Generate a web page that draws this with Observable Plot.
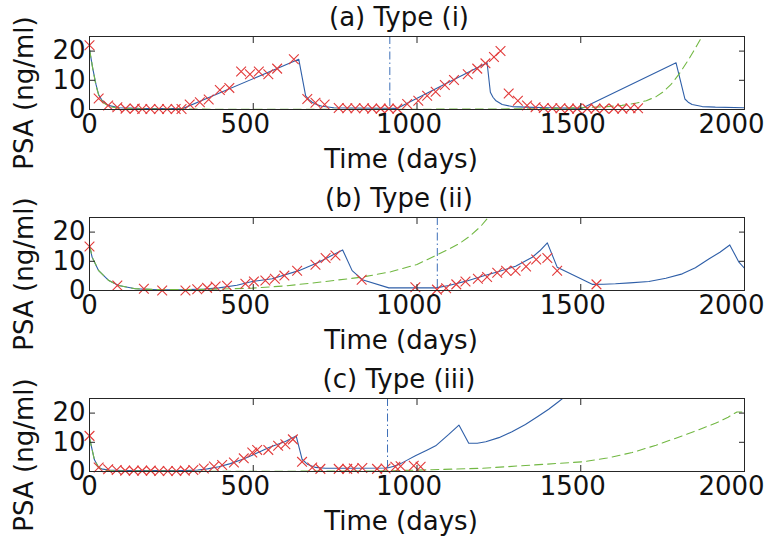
<!DOCTYPE html>
<html><head><meta charset="utf-8">
<script src="https://cdn.jsdelivr.net/npm/d3@7"></script>
<script src="https://cdn.jsdelivr.net/npm/@observablehq/plot@0.6"></script>
<style>body{margin:0;background:#fff;} #chart svg{display:block;}</style>
</head><body><div id="chart"></div>
<script>
// ---- tick labels & text ----
const xTicks = [0, 500, 1000, 1500, 2000];
const yTicks = [0, 10, 20];
const titles = ["(a) Type (i)", "(b) Type (ii)", "(c) Type (iii)"];
const xLabel = "Time (days)";
const yLabel = "PSA (ng/ml)";

// ---- panel (a) ----
const aModelT = [0, 10, 20, 28, 39, 57, 91, 150, 285, 639, 660, 670, 680, 695, 710, 746, 800, 900, 940, 1214, 1224, 1232, 1240, 1260, 1291, 1331, 1400, 1504, 1791, 1818, 1828, 1840, 1871, 1911, 2000];
const aModelV = [20.6, 14, 8.5, 5, 3, 1.4, 0.6, 0.4, 0.3, 17.2, 4.7, 3.4, 2.5, 1.6, 1.1, 0.6, 0.5, 0.45, 0.4, 16, 5.9, 4.2, 3.1, 1.7, 1.0, 0.8, 0.6, 0.4, 16, 3.6, 2.5, 1.7, 1.0, 0.8, 0.6];
const aSimT = [0, 10, 20, 28, 40, 60, 100, 200, 400, 700, 1000, 1200, 1350, 1450, 1520, 1580, 1626, 1670, 1700, 1730, 1750, 1775, 1800, 1830, 1855, 1875];
const aSimV = [20.6, 14, 8, 5, 2.5, 1, 0.3, 0.15, 0.1, 0.1, 0.1, 0.15, 0.25, 0.45, 0.7, 1.0, 1.4, 2.2, 3.0, 4.4, 5.9, 8.5, 12.1, 17.2, 22, 26];
const aObsT = [0, 28, 57, 85, 110, 138, 161, 186, 212, 237, 263, 281, 306, 337, 364, 398, 427, 463, 490, 517, 546, 573, 624, 665, 690, 718, 761, 787, 812, 838, 863, 889, 914, 940, 970, 1004, 1031, 1057, 1085, 1113, 1155, 1184, 1209, 1235, 1255, 1280, 1308, 1336, 1362, 1387, 1413, 1438, 1464, 1489, 1520, 1545, 1571, 1601, 1627, 1652, 1675];
const aObsV = [22, 3.8, 1.4, 0.8, 0.3, 0.3, 0.2, 0.2, 0.2, 0.2, 0.2, 0.2, 1.7, 2.5, 3.4, 6.7, 7.4, 13, 12.1, 13, 12.1, 14, 17.2, 3.6, 2.3, 1.7, 0.5, 0.4, 0.4, 0.4, 0.3, 0.3, 0.3, 0.3, 1.9, 3.0, 4.7, 6.1, 8.4, 10.1, 12.1, 14, 15.8, 18, 20, 5.5, 3.0, 1.4, 0.8, 0.5, 0.4, 0.4, 0.3, 0.3, 0.3, 0.3, 0.3, 0.3, 0.3, 0.4, 0.4];
const aStop = 917;

// ---- panel (b) ----
const bModelT = [0, 8, 28, 59, 89, 140, 212, 300, 350, 395, 450, 497, 558, 639, 700, 773, 802, 833, 914, 1000, 1058, 1097, 1150, 1199, 1250, 1301, 1352, 1375, 1398, 1428, 1535, 1570, 1606, 1650, 1708, 1760, 1810, 1850, 1891, 1925, 1955, 1983, 2000];
const bModelV = [15.4, 11.4, 6.8, 3.4, 1.7, 0.6, 0.2, 0.3, 0.5, 0.9, 1.8, 3.1, 4.0, 6.8, 9.7, 13.9, 6.8, 3.7, 0.9, 0.9, 0.9, 1.7, 3.2, 4.9, 6.5, 8.3, 11.4, 13.6, 16.3, 8.0, 2.1, 2.15, 2.3, 2.6, 3.1, 4.2, 5.7, 7.8, 10.8, 13.1, 15.6, 9.7, 7.6];
const bSimT = [0, 10, 28, 59, 89, 140, 212, 300, 400, 497, 600, 700, 833, 920, 1000, 1057, 1100, 1128, 1160, 1194, 1225];
const bSimV = [15.4, 11, 6.8, 3.4, 1.7, 0.6, 0.3, 0.3, 0.5, 0.8, 1.6, 2.8, 4.6, 6.4, 8.9, 12, 14.3, 16, 18.5, 21.9, 26];
const bObsT = [0, 85, 166, 222, 293, 329, 359, 385, 420, 476, 502, 537, 566, 595, 634, 690, 721, 751, 831, 995, 1061, 1089, 1120, 1148, 1186, 1214, 1245, 1272, 1301, 1333, 1364, 1398, 1428, 1548];
const bObsV = [15.1, 1.7, 0.6, 0.0, 0.0, 0.45, 0.9, 1.4, 1.6, 2.3, 3.1, 3.4, 4.0, 5.1, 6.8, 8.8, 11.1, 12.0, 3.7, 1.1, 0.3, 0.8, 2.1, 3.1, 4.0, 4.6, 6.1, 6.8, 6.8, 8.2, 10.6, 11.1, 6.8, 2.1];
const bStop = 1062;

// ---- panel (c) ----
const cModelT = [0, 15, 28, 40, 60, 100, 200, 293, 330, 360, 395, 430, 470, 497, 525, 548, 575, 598, 631, 649, 665, 690, 720, 800, 909, 930, 950, 970, 995, 1030, 1057, 1097, 1128, 1158, 1184, 1210, 1250, 1290, 1331, 1370, 1402, 1430, 1448, 1470];
const cModelV = [11.5, 4, 1.4, 0.8, 0.5, 0.3, 0.3, 0.3, 0.5, 0.9, 1.6, 2.7, 4.3, 5.6, 7.0, 8.2, 9.3, 10.3, 12.2, 4.2, 2.5, 1.4, 1.1, 1.1, 1.2, 1.8, 2.7, 3.9, 5.4, 7.3, 8.8, 12.7, 15.9, 9.7, 9.7, 10.2, 11.6, 13.6, 16.1, 18.9, 21.3, 23.7, 25.3, 27.3];
const cSimT = [0, 15, 28, 40, 60, 100, 300, 600, 900, 1046, 1199, 1352, 1504, 1580, 1657, 1730, 1810, 1860, 1911, 1950, 1977, 1990, 2000];
const cSimV = [11.5, 4, 1.4, 0.6, 0.3, 0.15, 0.1, 0.1, 0.2, 0.6, 1.1, 2.2, 3.3, 4.6, 6.5, 9.0, 12.2, 14.3, 16.5, 18.6, 20.4, 20.4, 20.4];
const cObsT = [0, 28, 57, 83, 109, 135, 161, 187, 213, 239, 265, 291, 317, 349, 380, 405, 441, 471, 497, 512, 546, 576, 598, 621, 649, 680, 705, 761, 787, 807, 833, 878, 904, 934, 950, 990, 1011];
const cObsV = [12.2, 1.4, 0.8, 0.5, 0.3, 0.3, 0.3, 0.3, 0.2, 0.2, 0.2, 0.3, 0.5, 1.0, 1.7, 2.2, 3.1, 4.5, 6.5, 7.4, 7.4, 8.8, 9.3, 11.0, 3.3, 1.4, 0.9, 0.9, 0.9, 1.0, 1.2, 0.9, 1.0, 1.6, 1.8, 2.0, 1.6];
const cStop = 910;

const FONT = "DejaVu Sans";
const FS = 26;
const BLUE = "#2f5fa8", GREEN = "#72b843", RED = "#e23a3a", AXIS = "#262626";

const zip = (t, v) => t.map((d, i) => ({t: d, v: v[i]}));

function panel(title, modelT, modelV, simT, simV, obsT, obsV, stop, h, mt) {
  const mb = h - mt - 73;
  return Plot.plot({
    width: 771, height: h,
    marginLeft: 89, marginRight: 27, marginTop: mt, marginBottom: mb,
    style: {fontFamily: FONT, fontSize: FS + "px", background: "white", color: "#111", overflow: "visible"},
    x: {domain: [0, 2000]},
    y: {domain: [0, 25]},
    marks: [
      Plot.line(zip(modelT, modelV), {x: "t", y: "v", stroke: BLUE, strokeWidth: 1.1, clip: true}),
      Plot.line(zip(simT, simV), {x: "t", y: "v", stroke: GREEN, strokeWidth: 1.1, strokeDasharray: "8,5", clip: true}),
      Plot.dot(zip(obsT, obsV), {x: "t", y: "v", symbol: "times", r: 4.5, stroke: RED, strokeWidth: 1.1}),
      Plot.ruleX([stop], {stroke: "#3d6fb8", strokeWidth: 1, strokeDasharray: "8,3,1.5,3"}),
      Plot.frame({stroke: AXIS, strokeWidth: 1}),
      Plot.axisX({ticks: xTicks, anchor: "bottom", tickSize: -6, tickFormat: () => "", label: null, stroke: AXIS}),
      Plot.axisX({ticks: xTicks, anchor: "top", tickSize: -6, tickFormat: () => "", label: null, stroke: AXIS}),
      Plot.axisY({ticks: yTicks, anchor: "left", tickSize: -6, tickFormat: () => "", label: null, stroke: AXIS}),
      Plot.axisY({ticks: yTicks, anchor: "right", tickSize: -6, tickFormat: () => "", label: null, stroke: AXIS}),
      Plot.axisX({ticks: xTicks.slice(0, 1), anchor: "bottom", tickSize: 0, tickPadding: 5, tickFormat: d => String(d), label: null, fontSize: FS}),
      Plot.axisX({ticks: xTicks.slice(1, 4), anchor: "bottom", tickSize: 0, tickPadding: 5, dx: -8, tickFormat: d => String(d), label: null, fontSize: FS}),
      Plot.axisX({ticks: xTicks.slice(4), anchor: "bottom", tickSize: 0, tickPadding: 5, dx: -13, tickFormat: d => String(d), label: null, fontSize: FS}),
      Plot.axisY({ticks: yTicks, anchor: "left", tickSize: 0, tickPadding: 4, tickFormat: d => String(d), label: null, fontSize: FS}),
      Plot.text([title], {frameAnchor: "top", text: d => d, dy: -19, dx: -18, fontSize: FS, lineAnchor: "middle", textAnchor: "middle"}),
      Plot.text([xLabel], {frameAnchor: "bottom", text: d => d, dy: 50, dx: -16, fontSize: FS, lineAnchor: "middle", textAnchor: "middle"}),
      Plot.text([yLabel], {frameAnchor: "left", text: d => d, dx: -65, dy: 20, rotate: -90, fontSize: FS, lineAnchor: "middle", textAnchor: "middle"})
    ]
  });
}

const root = document.getElementById("chart");
root.append(panel(titles[0], aModelT, aModelV, aSimT, aSimV, aObsT, aObsV, aStop, 180, 36));
root.append(panel(titles[1], bModelT, bModelV, bSimT, bSimV, bObsT, bObsV, bStop, 180, 37));
root.append(panel(titles[2], cModelT, cModelV, cSimT, cSimV, cObsT, cObsV, cStop, 184, 38));
</script>
</body></html>
